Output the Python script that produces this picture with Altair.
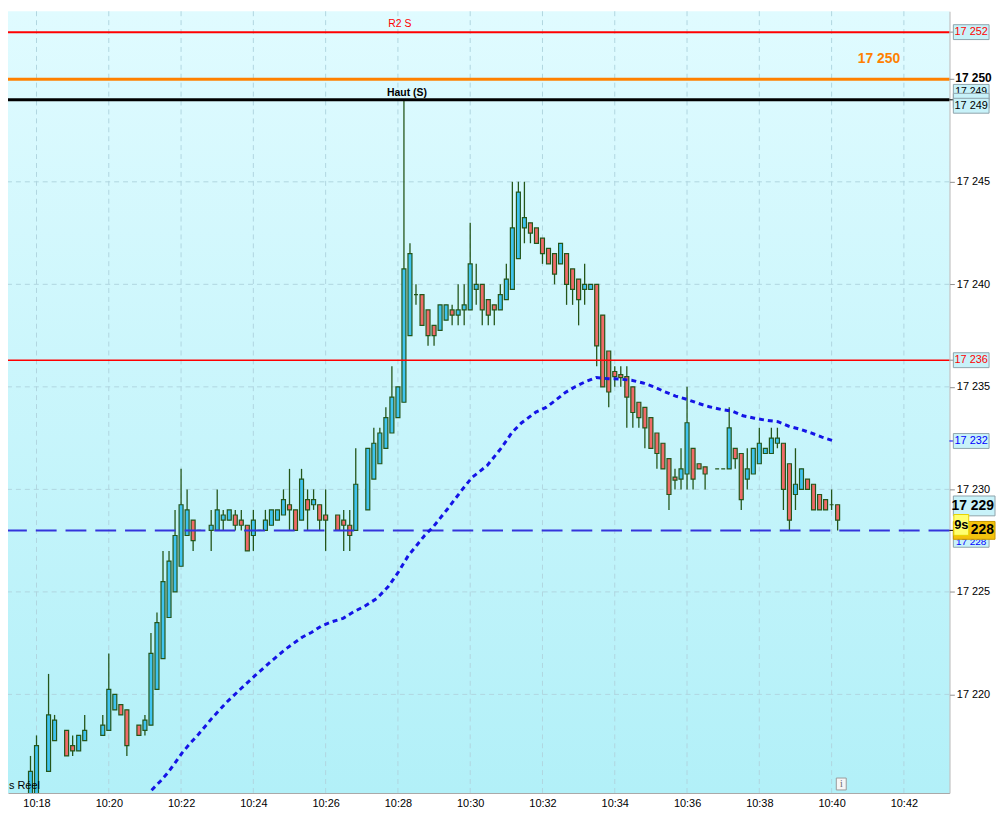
import altair as alt
import pandas as pd

DAY = "2024-01-15"

# ---------------- data ----------------
times = ["10:17:50", "10:18:00", "10:18:20", "10:18:30", "10:18:50", "10:19:00", "10:19:10", "10:19:20",
         "10:19:50", "10:20:00", "10:20:10", "10:20:20", "10:20:30", "10:20:50", "10:21:00", "10:21:10",
         "10:21:20", "10:21:30", "10:21:40", "10:21:50", "10:22:00", "10:22:10", "10:22:20", "10:22:30",
         "10:22:50", "10:23:00", "10:23:10", "10:23:20", "10:23:30", "10:23:40", "10:23:50", "10:24:00",
         "10:24:10", "10:24:20", "10:24:30", "10:24:40", "10:24:50", "10:25:00", "10:25:10", "10:25:20",
         "10:25:30", "10:25:40", "10:25:50", "10:26:00", "10:26:20", "10:26:30", "10:26:40", "10:26:50",
         "10:27:10", "10:27:20", "10:27:30", "10:27:40", "10:27:50", "10:28:00", "10:28:10", "10:28:20",
         "10:28:30", "10:28:40", "10:28:50", "10:29:00", "10:29:10", "10:29:20", "10:29:30", "10:29:40",
         "10:29:50", "10:30:00", "10:30:10", "10:30:20", "10:30:30", "10:30:40", "10:30:50", "10:31:00",
         "10:31:10", "10:31:20", "10:31:30", "10:31:40", "10:31:50", "10:32:00", "10:32:10", "10:32:20",
         "10:32:30", "10:32:40", "10:32:50", "10:33:00", "10:33:10", "10:33:20", "10:33:30", "10:33:40",
         "10:33:50", "10:34:00", "10:34:10", "10:34:20", "10:34:30", "10:34:40", "10:34:50", "10:35:00",
         "10:35:10", "10:35:20", "10:35:30", "10:35:40", "10:35:50", "10:36:00", "10:36:10", "10:36:20",
         "10:36:30", "10:36:50", "10:37:00", "10:37:10", "10:37:20", "10:37:30", "10:37:40", "10:37:50",
         "10:38:00", "10:38:10", "10:38:20", "10:38:30", "10:38:40", "10:38:50", "10:39:00", "10:39:10",
         "10:39:20", "10:39:30", "10:39:40", "10:39:50", "10:40:00", "10:40:10"]

opens = [17215.0, 17215.0, 17216.25, 17217.75, 17218.25, 17217.5, 17217.25, 17217.75,
         17218.0, 17218.25, 17219.25, 17219.5, 17219.25, 17218.5, 17218.25, 17218.5,
         17220.25, 17221.75, 17223.75, 17225.0, 17226.25, 17227.75, 17228.5, 17228.0,
         17228.0, 17228.0, 17228.5, 17228.5, 17228.75, 17228.5, 17228.25, 17227.75,
         17228.0, 17228.0, 17228.25, 17228.5, 17228.75, 17229.25, 17229.0, 17228.5,
         17229.5, 17229.25, 17229.25, 17228.75, 17228.75, 17228.5, 17228.25, 17228.0,
         17229.0, 17230.5, 17231.25, 17232.0, 17232.75, 17233.5, 17234.25, 17237.5,
         17239.5, 17239.5, 17238.75, 17238.0, 17237.75, 17238.25, 17238.75, 17238.5,
         17238.75, 17238.75, 17239.75, 17240.0, 17239.25, 17239.0, 17238.75, 17239.25,
         17239.75, 17241.25, 17242.75, 17243.0, 17242.75, 17242.25, 17241.75, 17241.5,
         17241.0, 17241.5, 17240.75, 17240.25, 17239.75, 17239.75, 17240.0, 17238.5,
         17236.75, 17235.75, 17235.6, 17235.5, 17235.0, 17234.25, 17234.0, 17233.5,
         17232.75, 17232.25, 17231.5, 17230.6, 17230.5, 17230.75, 17232.0, 17231.25,
         17231.1, 17231.0, 17231.0, 17231.0, 17232.0, 17231.75, 17230.5, 17230.75,
         17231.25, 17231.75, 17231.75, 17232.25, 17232.25, 17231.25, 17229.75, 17230.0,
         17230.5, 17230.25, 17229.75, 17229.5, 17229.25, 17229.25]

highs = [17217.0, 17218.0, 17221.0, 17219.0, 17218.25, 17218.0, 17218.0, 17219.0,
         17219.0, 17222.0, 17220.0, 17219.5, 17219.25, 17218.5, 17219.0, 17223.0,
         17224.0, 17227.0, 17227.0, 17229.0, 17231.0, 17230.0, 17228.5, 17228.0,
         17229.0, 17230.0, 17229.0, 17229.0, 17229.0, 17229.0, 17228.25, 17229.0,
         17228.0, 17229.0, 17229.0, 17229.0, 17230.0, 17231.0, 17229.0, 17231.0,
         17230.0, 17230.0, 17229.25, 17230.0, 17228.75, 17229.0, 17229.0, 17232.0,
         17232.0, 17233.0, 17233.0, 17234.0, 17236.0, 17235.0, 17249.0, 17242.0,
         17240.0, 17239.5, 17238.75, 17238.0, 17239.0, 17239.0, 17239.0, 17240.0,
         17240.0, 17243.0, 17241.0, 17240.0, 17239.25, 17239.0, 17240.0, 17241.0,
         17245.0, 17245.0, 17245.0, 17243.0, 17242.75, 17242.25, 17241.75, 17241.5,
         17242.0, 17241.5, 17240.75, 17240.25, 17241.0, 17240.0, 17240.0, 17238.5,
         17236.75, 17236.0, 17236.0, 17236.0, 17235.0, 17234.25, 17234.0, 17233.5,
         17232.75, 17232.25, 17231.5, 17231.0, 17232.0, 17235.0, 17232.0, 17231.25,
         17231.1, 17231.0, 17231.0, 17234.0, 17232.0, 17231.75, 17232.0, 17232.0,
         17233.0, 17232.0, 17233.0, 17233.0, 17232.25, 17231.25, 17232.0, 17231.0,
         17230.5, 17230.25, 17229.75, 17229.5, 17230.0, 17229.25]

lows = [17214.5, 17214.5, 17216.25, 17217.75, 17217.0, 17217.0, 17217.25, 17217.75,
        17218.0, 17218.25, 17219.25, 17219.0, 17217.0, 17218.0, 17218.0, 17218.5,
        17220.25, 17221.75, 17223.75, 17225.0, 17226.25, 17227.75, 17227.0, 17228.0,
        17227.0, 17228.0, 17228.0, 17228.5, 17228.0, 17228.0, 17227.0, 17227.0,
        17228.0, 17228.0, 17228.25, 17228.5, 17228.75, 17228.0, 17228.0, 17228.5,
        17228.0, 17229.0, 17228.0, 17227.0, 17228.0, 17227.0, 17227.0, 17228.0,
        17229.0, 17230.5, 17231.25, 17232.0, 17232.75, 17233.5, 17234.25, 17237.5,
        17239.0, 17238.0, 17237.0, 17237.0, 17237.75, 17238.25, 17238.0, 17238.0,
        17238.0, 17238.75, 17239.0, 17238.0, 17238.0, 17238.0, 17238.75, 17239.25,
        17239.75, 17241.25, 17242.0, 17242.0, 17242.0, 17241.0, 17241.0, 17240.0,
        17241.0, 17239.0, 17239.0, 17238.0, 17239.0, 17239.75, 17236.0, 17235.0,
        17234.0, 17235.0, 17235.0, 17233.0, 17233.0, 17233.0, 17232.0, 17232.0,
        17231.0, 17231.0, 17229.0, 17230.0, 17230.0, 17230.0, 17230.0, 17231.0,
        17230.0, 17231.0, 17231.0, 17231.0, 17231.0, 17229.0, 17230.0, 17230.75,
        17231.25, 17231.75, 17231.75, 17232.0, 17229.0, 17228.0, 17229.0, 17230.0,
        17230.0, 17229.0, 17229.0, 17229.0, 17229.0, 17228.0]

closes = [17216.25, 17217.5, 17219.0, 17218.75, 17217.0, 17217.25, 17218.0, 17218.25,
          17218.5, 17220.25, 17220.0, 17219.0, 17217.5, 17218.0, 17218.75, 17222.0,
          17223.5, 17225.5, 17226.5, 17227.75, 17229.25, 17229.0, 17227.5, 17228.0,
          17228.25, 17229.0, 17228.75, 17229.0, 17228.25, 17228.25, 17227.0, 17228.5,
          17228.0, 17228.5, 17229.0, 17229.0, 17229.5, 17229.0, 17228.0, 17230.5,
          17229.0, 17229.5, 17228.5, 17228.5, 17228.0, 17228.25, 17227.75, 17230.25,
          17232.0, 17232.25, 17232.75, 17233.5, 17234.5, 17235.0, 17240.75, 17241.5,
          17239.5, 17238.0, 17237.5, 17237.5, 17239.0, 17239.0, 17238.5, 17238.75,
          17239.0, 17241.0, 17240.0, 17238.75, 17238.5, 17238.75, 17239.5, 17240.25,
          17242.75, 17244.5, 17243.25, 17242.5, 17242.0, 17241.5, 17241.0, 17240.5,
          17242.0, 17240.0, 17239.75, 17239.25, 17240.0, 17240.0, 17237.0, 17235.0,
          17234.75, 17235.5, 17235.45, 17234.5, 17233.75, 17233.5, 17233.0, 17232.0,
          17231.75, 17231.0, 17229.75, 17230.45, 17231.0, 17233.25, 17230.5, 17231.0,
          17230.75, 17231.0, 17231.0, 17233.0, 17231.5, 17229.5, 17231.0, 17232.0,
          17232.25, 17232.0, 17232.5, 17232.5, 17230.0, 17228.5, 17230.25, 17231.0,
          17230.0, 17229.0, 17229.0, 17229.0, 17229.25, 17228.5]

ma_times = ["10:21:11", "10:21:26", "10:21:38", "10:21:50", "10:22:02", "10:22:15", "10:22:29", "10:22:51",
            "10:23:15", "10:23:40", "10:24:04", "10:24:29", "10:24:53", "10:25:21", "10:25:37", "10:25:53",
            "10:26:11", "10:26:29", "10:26:46", "10:27:04", "10:27:25", "10:27:44", "10:28:01", "10:28:17",
            "10:28:32", "10:28:44", "10:28:58", "10:29:22", "10:29:47", "10:30:03", "10:30:28", "10:30:52",
            "10:31:09", "10:31:25", "10:31:49", "10:32:06", "10:32:22", "10:32:38", "10:32:55", "10:33:12",
            "10:33:29", "10:33:49", "10:34:08", "10:34:28", "10:34:47", "10:35:05", "10:35:23", "10:35:41",
            "10:36:00", "10:36:19", "10:36:37", "10:36:56", "10:37:16", "10:37:33", "10:37:52", "10:38:11",
            "10:38:31", "10:38:49", "10:39:07", "10:39:27", "10:39:44", "10:40:04"]
ma_values = [17215.33, 17215.78, 17216.18, 17216.66, 17217.16, 17217.61, 17218.06, 17218.83,
             17219.60, 17220.30, 17220.95, 17221.60, 17222.20, 17222.79, 17223.03, 17223.34,
             17223.55, 17223.71, 17224.02, 17224.29, 17224.68, 17225.26, 17225.98, 17226.76,
             17227.30, 17227.74, 17228.15, 17229.03, 17230.00, 17230.58, 17231.16, 17232.03,
             17232.76, 17233.24, 17233.77, 17234.00, 17234.35, 17234.73, 17235.02, 17235.26,
             17235.45, 17235.40, 17235.38, 17235.32, 17235.19, 17235.00, 17234.76, 17234.55,
             17234.39, 17234.19, 17234.03, 17233.90, 17233.81, 17233.59, 17233.47, 17233.37,
             17233.30, 17233.08, 17232.94, 17232.74, 17232.55, 17232.36]

x_tick_labels = ["10:18", "10:20", "10:22", "10:24", "10:26", "10:28", "10:30",
                 "10:32", "10:34", "10:36", "10:38", "10:40", "10:42"]
y_tick_values = [17220, 17225, 17230, 17235, 17240, 17245]

level_r2 = 17252.3      # "R2 S"
level_orange = 17250.0
level_high = 17249.0    # "Haut (S)"
level_red = 17236.3
level_blue = 17228.0
last_price = 17229.0
countdown = "9s"

# ---------------- helpers ----------------
W, H = 949, 788
UP, DOWN, EDGE = "#3fc3ef", "#f06a68", "#24561a"
FONT = "Liberation Sans"


def ts(hms):
    return f"{DAY}T{hms}"


def dt(hms):
    h, m, s = hms.split(":")
    sec = float(s)
    return alt.DateTime(year=2024, month=1, date=15, hours=int(h), minutes=int(m),
                        seconds=int(sec), milliseconds=int(round((sec - int(sec)) * 1000)))


def fmt(v):
    return f"{round(v):,}".replace(",", " ")


xscale = alt.Scale(domain=[dt("10:17:20.9"), dt("10:43:07.3")], nice=False)
yscale = alt.Scale(domain=[17215.196, 17253.319], nice=False, zero=False)
xaxis = alt.Axis(values=[dt(l + ":00") for l in x_tick_labels], format="%H:%M", grid=False,
                 ticks=False, domainColor="#a0a0a0", labelFontSize=11, labelColor="#000000",
                 labelPadding=5, title=None, labelFont=FONT)
yaxis = alt.Axis(orient="right", values=y_tick_values,
                 labelExpr="replace(format(datum.value, ','), ',', ' ')", grid=False,
                 tickSize=5, tickColor="#909090", domainColor="#a0a0a0", labelFontSize=11,
                 labelColor="#000000", labelPadding=2, title=None, labelFont=FONT)


def X(f):
    return alt.X(f, type="temporal", scale=xscale, axis=xaxis)


def Y(f):
    return alt.Y(f, type="quantitative", scale=yscale, axis=yaxis)


candles = pd.DataFrame({"t": [ts(t) for t in times], "o": opens, "h": highs, "l": lows, "c": closes})
candles["fill"] = [UP if c >= o else DOWN for o, c in zip(opens, closes)]
ma = pd.DataFrame({"t": [ts(t) for t in ma_times], "v": ma_values})
xt = pd.DataFrame({"t": [ts(l + ":00") for l in x_tick_labels]})
yt = pd.DataFrame({"v": y_tick_values})
one = pd.DataFrame({"a": [0]})

layers = []

# background gradient
bg_fill = alt.LinearGradient(gradient="linear",
                             stops=[alt.GradientStop(color="#e0fbff", offset=0),
                                    alt.GradientStop(color="#b2f0f8", offset=1)],
                             x1=0, x2=0, y1=0, y2=1)
layers.append(alt.Chart(one).mark_rect(fill=bg_fill).encode(
    x=alt.value(0), x2=alt.value(W), y=alt.value(0), y2=alt.value(H)))

# grid
GRID = "#b0d6e0"
layers.append(alt.Chart(yt).mark_rule(color=GRID, strokeWidth=1, strokeDash=[5, 4]).encode(y=Y("v")))
layers.append(alt.Chart(xt).mark_rule(color=GRID, strokeWidth=1, strokeDash=[5, 4]).encode(x=X("t")))

# candles
layers.append(alt.Chart(candles).mark_rule(color=EDGE, strokeWidth=1.3, clip=True).encode(
    x=X("t"), y=Y("l"), y2="h:Q"))
layers.append(alt.Chart(candles).mark_bar(size=4, stroke=EDGE, strokeWidth=1.2, clip=True).encode(
    x=X("t"), y=Y("o"), y2="c:Q", fill=alt.Fill("fill:N", scale=None)))


def hline(v, color, width, dash=None):
    kw = dict(color=color, strokeWidth=width)
    if dash:
        kw["strokeDash"] = dash
    return alt.Chart(pd.DataFrame({"v": [v]})).mark_rule(**kw).encode(y=Y("v"))


layers.append(hline(level_r2, "#ff0000", 2))
layers.append(hline(level_orange, "#ff8000", 3))
layers.append(hline(level_high, "#000000", 3))
layers.append(hline(level_red, "#ff0000", 1.5))
layers.append(hline(level_blue, "#3434dc", 2, [21, 9]))

# moving average
layers.append(alt.Chart(ma).mark_line(color="#1414e6", strokeWidth=3, strokeDash=[5, 4], clip=True).encode(
    x=X("t"), y=Y("v")))

# in-plot labels
layers.append(alt.Chart(pd.DataFrame({"v": [level_r2], "label": ["R2 S"]})).mark_text(
    color="#ff0000", fontSize=10.5, yOffset=-8, baseline="middle", align="center", font=FONT).encode(
    x=alt.value(395), y=Y("v"), text="label:N"))
hi_time = times[highs.index(max(highs))]
layers.append(alt.Chart(pd.DataFrame({"t": [ts(hi_time)], "v": [level_high], "label": ["Haut (S)"]})).mark_text(
    color="#000000", fontSize=10.5, fontWeight="bold", yOffset=-7, xOffset=3, baseline="middle",
    align="center", font=FONT).encode(x=X("t"), y=Y("v"), text="label:N"))
layers.append(alt.Chart(pd.DataFrame({"v": [level_orange], "label": [fmt(level_orange)]})).mark_text(
    color="#ff8000", fontSize=14, fontWeight="bold", yOffset=-20, baseline="middle", align="center",
    font=FONT).encode(x=alt.value(878), y=Y("v"), text="label:N"))
layers.append(alt.Chart(pd.DataFrame({"label": ["s Réel"]})).mark_text(
    color="#000000", fontSize=11, baseline="middle", align="left", font=FONT).encode(
    x=alt.value(1), y=alt.value(781), text="label:N"))
# info icon
layers.append(alt.Chart(one).mark_rect(fill="#f6f6f6", stroke="#9a9a9a", strokeWidth=1).encode(
    x=alt.value(835), x2=alt.value(845), y=alt.value(773), y2=alt.value(785)))
layers.append(alt.Chart(pd.DataFrame({"label": ["i"]})).mark_text(
    color="#666666", fontSize=10, font="Liberation Serif", baseline="middle", align="center").encode(
    x=alt.value(840), y=alt.value(779.5), text="label:N"))


# right-side price tags
def tag(value, label, tcolor, yoff=0, x1=953, x2=989, h=15, fill="#c8f2f9", stroke="#8fa3ab",
        size=11, weight="normal", tx=None, align="center", box=True, text=True, tyoff=None):
    d = pd.DataFrame({"v": [value], "label": [label]})
    out = []
    if box:
        out.append(alt.Chart(d).mark_rect(fill=fill, stroke=stroke, strokeWidth=1,
                                          yOffset=yoff - h / 2, y2Offset=yoff + h / 2).encode(
            x=alt.value(x1), x2=alt.value(x2), y=Y("v"), y2="v:Q"))
    if text:
        out.append(alt.Chart(d).mark_text(color=tcolor, fontSize=size, fontWeight=weight, align=align,
                                          baseline="middle", yOffset=yoff if tyoff is None else tyoff,
                                          font=FONT).encode(
            x=alt.value(tx if tx is not None else (x1 + x2) / 2), y=Y("v"), text="label:N"))
    return out


def tick(value, color):
    return alt.Chart(pd.DataFrame({"v": [value]})).mark_rule(color=color, strokeWidth=1).encode(
        x=alt.value(W), x2=alt.value(W + 5), y=Y("v"))


layers.append(tick(level_r2, "#909090"))
layers.append(tick(level_orange, "#909090"))
layers.append(tick(level_high, "#000000"))
layers.append(tick(level_red, "#909090"))
layers.append(tick(ma_values[-1], "#0000ff"))
layers.append(tick(level_blue, "#000000"))

layers += tag(level_r2, fmt(level_r2), "#ff0000")
layers += tag(level_high, fmt(level_high), "#000000", yoff=-8, size=10.5)
layers += tag(level_high, fmt(level_high), "#000000", yoff=1, text=False)
layers += tag(level_high, fmt(level_high), "#000000", yoff=6)
layers += tag(level_orange, fmt(level_orange), "#000000", yoff=-1, size=12, weight="bold", tx=955,
              align="left", box=False)
layers += tag(level_red, fmt(level_red), "#ff0000")
layers += tag(ma_values[-1], fmt(ma_values[-1]), "#0000ff")
layers += tag(level_blue, fmt(level_blue), "#0000ff", yoff=9, h=16, size=10, tyoff=12)
layers += tag(last_price, fmt(last_price), "#000000", yoff=-4, x2=995, h=20, size=14, weight="bold",
              tx=994, align="right")
layers += tag(level_blue, fmt(level_blue)[-3:], "#000000", yoff=0, x2=995, h=18, fill="#f4c20d",
              stroke="#c89a00", size=14, weight="bold", tx=994, align="right")
layers += tag(level_blue, countdown, "#000000", yoff=-5.5, x1=953.5, x2=968.5, h=21, fill="#ffff70",
              stroke="#e6d200", size=13, weight="bold")

chart = alt.layer(*layers).properties(
    width=W, height=H,
    autosize=alt.AutoSizeParams(type="none"),
    padding={"left": 0, "top": 0, "right": 48, "bottom": 20},
).configure(font=FONT).configure_view(stroke=None)

chart.save("out.html", embed_options={"renderer": "svg", "actions": False})
